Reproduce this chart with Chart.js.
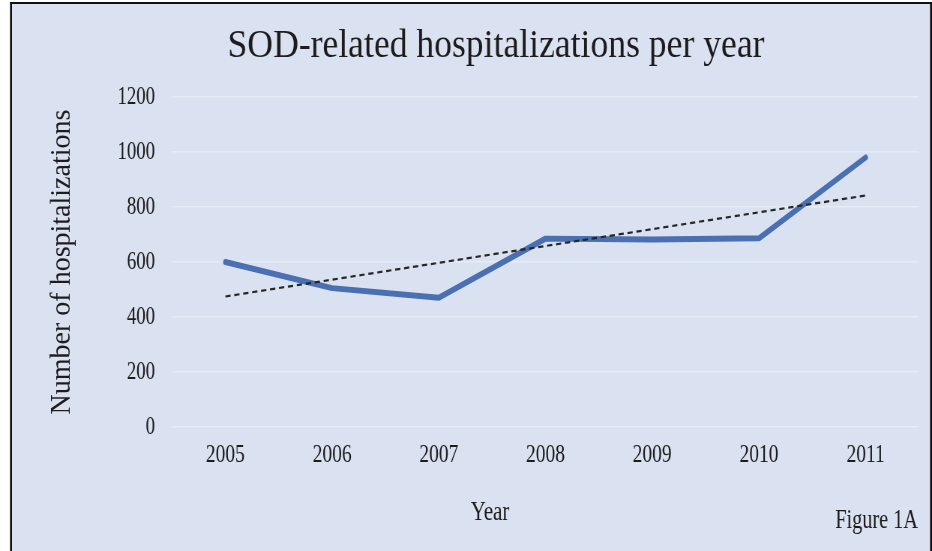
<!DOCTYPE html>
<html>
<head>
<meta charset="utf-8">
<script src="https://cdn.jsdelivr.net/npm/chart.js@4/dist/chart.umd.min.js"></script>
<style>
  html, body { margin: 0; padding: 0; background: #ffffff; overflow: hidden; }
</style>
</head>
<body>
<canvas id="c" width="1243" height="551" style="display:block;width:932px;height:551px"></canvas>
<script>
// Yearly SOD-related hospitalizations
const years = ['2005', '2006', '2007', '2008', '2009', '2010', '2011'];
const hospitalizations = [600, 505, 470, 685, 682, 686, 980];
const yTicks = [0, 200, 400, 600, 800, 1000, 1200];

// Linear (least-squares) trend over the yearly counts
function linearTrend(values) {
  const n = values.length;
  const mx = (n - 1) / 2;
  const my = values.reduce((a, b) => a + b, 0) / n;
  let num = 0, den = 0;
  values.forEach((v, i) => { num += (i - mx) * (v - my); den += (i - mx) * (i - mx); });
  const slope = num / den;
  return values.map((_, i) => my + slope * (i - mx));
}
const trend = linearTrend(hospitalizations);

const canvas = document.getElementById('c');
// The drawing surface is wider than its on-screen box, which gives the narrow serif look.
const SX = 932 / canvas.width;
const X = (px) => px / SX;

const SERIF = '"Liberation Serif", "Times New Roman", serif';
const INK = '#1c1c1c';
const TITLE = 'SOD-related hospitalizations per year';
const X_TITLE = 'Year';
const Y_TITLE = 'Number of hospitalizations';
const TAG = 'Figure 1A';

// Panel background, frame, headline, axis captions and figure tag
const panel = {
  id: 'panel',
  beforeDraw(chart) {
    const ctx = chart.ctx;
    ctx.save();
    ctx.fillStyle = '#ffffff';
    ctx.fillRect(0, 0, chart.width, chart.height);
    ctx.fillStyle = '#dae2f2';
    ctx.fillRect(X(11), 3, X(920), 560);
    ctx.fillStyle = '#111111';
    ctx.fillRect(X(10), 2, X(2), 560);
    ctx.fillRect(X(930), 2, X(2), 560);
    ctx.fillRect(X(10), 2, X(922), 2);
    ctx.restore();
  },
  afterDraw(chart) {
    const ctx = chart.ctx;
    const area = chart.chartArea;
    ctx.save();
    ctx.fillStyle = INK;
    ctx.textBaseline = 'middle';
    ctx.textAlign = 'center';

    // headline, fitted to its span
    ctx.font = '41px ' + SERIF;
    const w = ctx.measureText(TITLE).width;
    const k = X(537) / w;
    ctx.save();
    ctx.translate(X(496), 46);
    ctx.scale(k, 1);
    ctx.fillText(TITLE, 0, 0);
    ctx.restore();

    // vertical caption of the value axis, kept at regular proportions
    ctx.save();
    ctx.font = '28px ' + SERIF;
    ctx.translate(X(62), (area.top + area.bottom) / 2);
    ctx.scale(1 / SX, 1);
    ctx.rotate(-Math.PI / 2);
    ctx.fillText(Y_TITLE, 0, 0);
    ctx.restore();

    ctx.font = '28px ' + SERIF;
    ctx.fillText(X_TITLE, X(490), 513);
    ctx.textAlign = 'right';
    ctx.font = '27px ' + SERIF;
    ctx.fillText(TAG, X(918), 521);
    ctx.restore();
  }
};

new Chart(canvas, {
  type: 'line',
  data: {
    labels: years,
    datasets: [
      {
        label: 'Hospitalizations',
        data: hospitalizations,
        borderColor: '#4a6fb3',
        borderWidth: 6,
        pointRadius: 0,
        borderJoinStyle: 'round',
        borderCapStyle: 'round',
        tension: 0,
        order: 2
      },
      {
        label: 'Linear trend',
        data: trend,
        borderColor: '#262626',
        borderWidth: 2.2,
        borderDash: [7, 5],
        pointRadius: 0,
        tension: 0,
        order: 1
      }
    ]
  },
  plugins: [panel],
  options: {
    responsive: false,
    animation: false,
    devicePixelRatio: 1,
    layout: { padding: { left: 0, right: X(13), top: 97, bottom: 0 } },
    plugins: {
      legend: { display: false },
      tooltip: { enabled: false },
      title: { display: false }
    },
    scales: {
      x: {
        offset: true,
        grid: { display: false, drawTicks: false },
        border: { display: false },
        ticks: { color: INK, font: { family: SERIF, size: 26 }, padding: 13 },
        afterFit(scale) { scale.height = 124; }
      },
      y: {
        min: 0,
        max: 1200,
        afterBuildTicks(scale) { scale.ticks = yTicks.map(v => ({ value: v })); },
        grid: { color: '#e6ebf5', lineWidth: 1.5, drawTicks: false },
        border: { display: false },
        ticks: {
          color: INK,
          font: { family: SERIF, size: 25 },
          padding: X(17),
          callback: (v) => String(v)
        },
        title: { display: false },
        afterFit(scale) { scale.width = X(172); }
      }
    }
  }
});
</script>
</body>
</html>
